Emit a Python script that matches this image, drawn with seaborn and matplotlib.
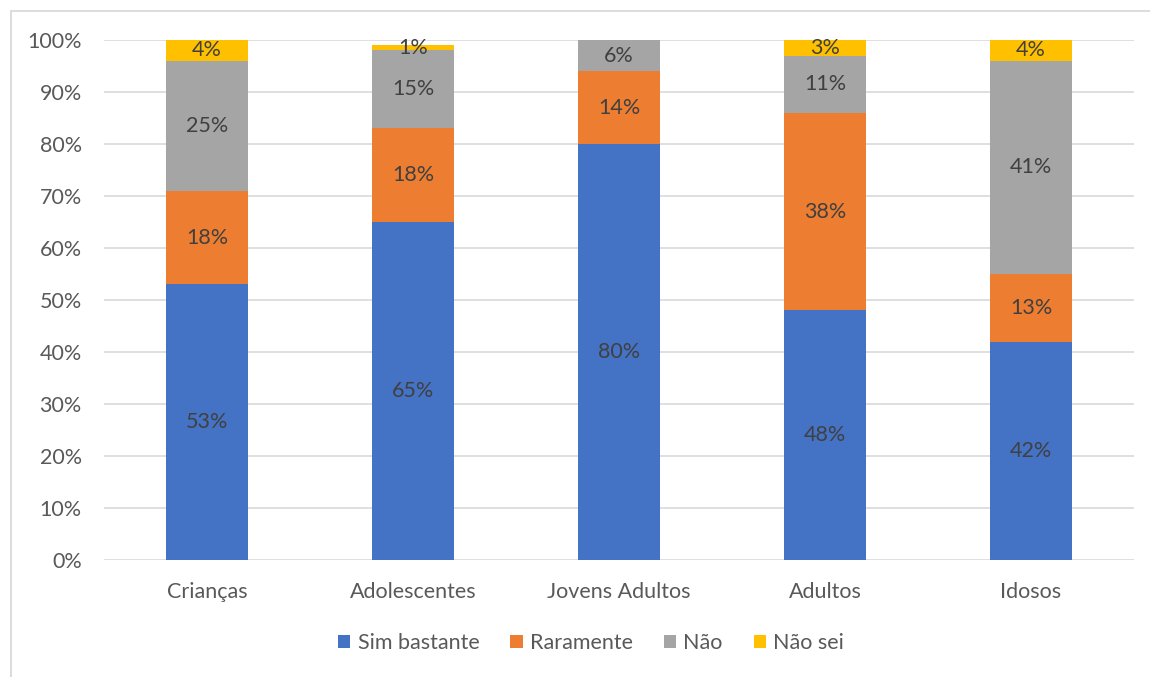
import numpy as np
import pandas as pd
import matplotlib
matplotlib.use("Agg")
import matplotlib.pyplot as plt
from matplotlib.patches import Rectangle
import seaborn as sns

categories = ["Crianças", "Adolescentes", "Jovens Adultos", "Adultos", "Idosos"]
sim_bastante = [53, 65, 80, 48, 42]
raramente = [18, 18, 14, 38, 13]
nao = [25, 15, 6, 11, 41]
nao_sei = [4, 1, 0, 3, 4]

series_names = ["Sim bastante", "Raramente", "Não", "Não sei"]
series_values = [sim_bastante, raramente, nao, nao_sei]
colors = ["#4472C4", "#ED7D31", "#A5A5A5", "#FFC000"]

sns.set_theme(style="white")
plt.rcParams["font.family"] = ["Lato", "DejaVu Sans"]
FS = 15.5

fig = plt.figure(figsize=(11.5, 6.77), dpi=100)
ax = fig.add_axes([104 / 1150, 1 - 560 / 677, 1030 / 1150, 520 / 677])

# outer chart frame
fig.patches.append(Rectangle((11 / 1150, -0.05), 1.2, 1 - 11 / 677 + 0.05,
                             transform=fig.transFigure, fill=False,
                             edgecolor="#D9D9D9", linewidth=1.3, zorder=0))

bottom = np.zeros(len(categories))
for name, vals, col in zip(series_names, series_values, colors):
    vals = np.array(vals, dtype=float)
    df = pd.DataFrame({"cat": categories, "v": vals})
    sns.barplot(data=df, x="cat", y="v", bottom=bottom, color=col,
                width=0.4, ax=ax, label=name, saturation=1,
                edgecolor="none", zorder=2)
    for i, v in enumerate(vals):
        if v > 0:
            ax.text(i, bottom[i] + v / 2, f"{int(v)}%", ha="center",
                    va="center", fontsize=FS, color="#404040", zorder=3)
    bottom = bottom + vals

ax.set_ylim(0, 100)
ax.set_xlim(-0.5, len(categories) - 0.5)
ax.set_yticks(np.arange(0, 101, 10))
ax.set_yticklabels([f"{t}%" for t in range(0, 101, 10)])
ax.yaxis.grid(True, color="#D9D9D9", linewidth=1.2, zorder=0)
ax.set_axisbelow(True)
for s in ax.spines.values():
    s.set_visible(False)
ax.tick_params(axis="both", length=0, labelsize=FS, labelcolor="#595959")
ax.tick_params(axis="x", pad=16)
ax.tick_params(axis="y", pad=16)
ax.set_xlabel("")
ax.set_ylabel("")

handles, labels = ax.get_legend_handles_labels()
if ax.get_legend():
    ax.get_legend().remove()
leg = fig.legend(handles, labels, loc="center", bbox_to_anchor=(591 / 1150, 1 - 643 / 677),
                 ncol=4, frameon=False, fontsize=FS, handlelength=0.56,
                 handleheight=0.56, handletextpad=0.33, columnspacing=1.45)
for t in leg.get_texts():
    t.set_color("#595959")

fig.savefig("out.png", dpi=100)
